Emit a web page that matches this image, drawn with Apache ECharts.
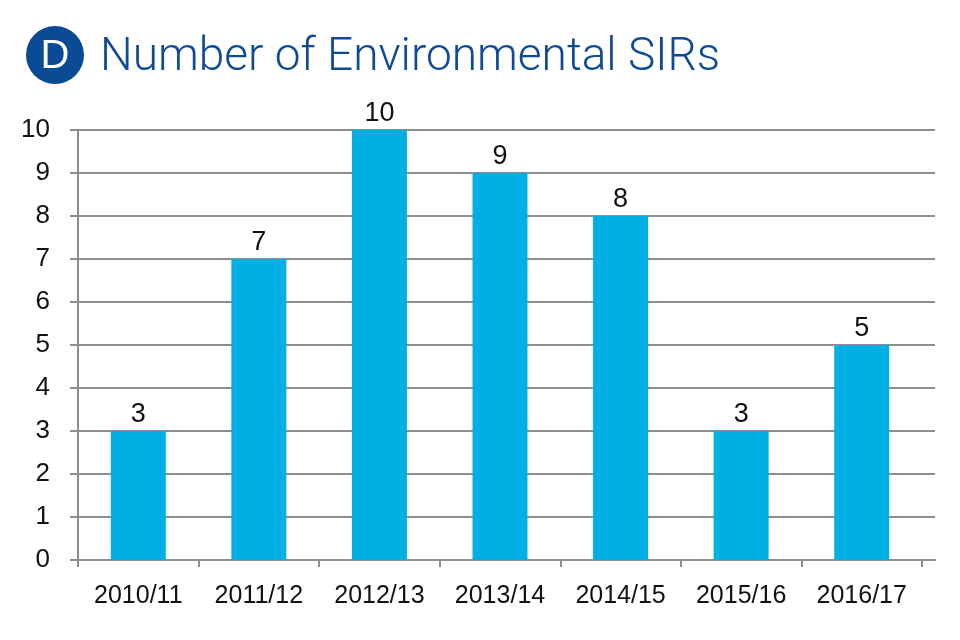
<!DOCTYPE html>
<html><head><meta charset="utf-8">
<script src="https://cdn.jsdelivr.net/npm/echarts@6/dist/echarts.min.js"></script>
<style>html,body{margin:0;padding:0;background:#fff}#c{width:960px;height:640px}</style>
</head><body><div id="c"></div>
<script>
const categories = ['2010/11','2011/12','2012/13','2013/14','2014/15','2015/16','2016/17'];
const values = [3, 7, 10, 9, 8, 3, 5];
const yTicks = [0,1,2,3,4,5,6,7,8,9,10];
const titleText = 'Number of Environmental SIRs';
const badgeText = 'D';

const gray = '#8e8e8e';
const chart = echarts.init(document.getElementById('c'));
chart.setOption({
  animation: false,
  backgroundColor: '#fff',
  graphic: [
    {type:'circle', shape:{cx:55, cy:55, r:29}, style:{fill:'#0b4a94'}},
    {type:'text', x:55, y:57, style:{text:badgeText, fill:'#fff', font:'40px "Liberation Sans Narrow","Liberation Sans",sans-serif', textAlign:'center', textVerticalAlign:'middle'}},
    {type:'text', x:100, y:58, style:{text:titleText, fill:'#0f4a96', font:'300 46px Roboto,"Liberation Sans",sans-serif', textAlign:'left', textVerticalAlign:'middle'}}
  ],
  grid: [
    {left:78, right:38, top:130, bottom:80},
    {left:78, right:25, top:130, bottom:80}
  ],
  xAxis: [
    {type:'category', gridIndex:0, data:categories, boundaryGap:true,
     axisLine:{show:true, lineStyle:{color:gray, width:2}},
     axisTick:{show:true, length:7, lineStyle:{color:gray, width:2}},
     axisLabel:{fontSize:25, color:'#111', margin:24, fontFamily:'"Liberation Sans",Arial,sans-serif'},
     splitLine:{show:false}},
    {type:'value', gridIndex:1, min:0, max:1,
     axisLine:{show:true, lineStyle:{color:gray, width:2}},
     axisTick:{show:false}, axisLabel:{show:false}, splitLine:{show:false}}
  ],
  yAxis: [
    {type:'value', gridIndex:0, min:0, max:10, interval:1, show:false},
    {type:'value', gridIndex:1, min:0, max:10, interval:1,
     axisLine:{show:true, lineStyle:{color:gray, width:2}},
     axisTick:{show:true, length:8, lineStyle:{color:gray, width:2}},
     axisLabel:{fontSize:26, color:'#111', margin:28, fontFamily:'"Liberation Sans",Arial,sans-serif',
       formatter: v => yTicks.includes(v) ? String(v) : ''},
     splitLine:{show:true, lineStyle:{color:gray, width:2}}}
  ],
  series: [{
    type:'bar', xAxisIndex:0, yAxisIndex:0, data:values, barWidth:55,
    itemStyle:{color:'#00b0e4'},
    label:{show:true, position:'top', distance:3, fontSize:27, color:'#111', fontFamily:'"Liberation Sans",Arial,sans-serif'}
  }]
});
</script></body></html>
